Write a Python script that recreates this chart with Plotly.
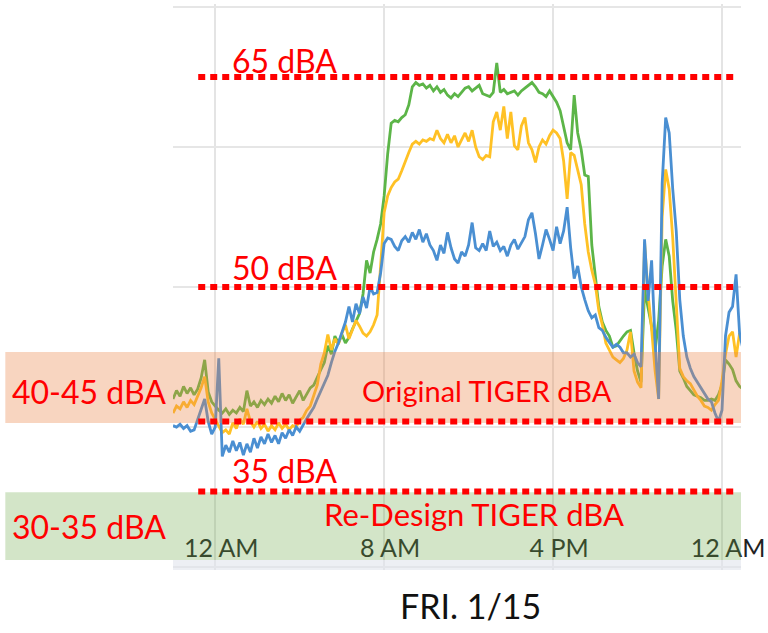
import pandas as pd
import plotly.graph_objects as go

# 10-minute readings starting Thu 1/14 10:00 PM
start_time = "2016-01-14 22:00"
step = "10min"

green_dba = [
    42.0, 42.6, 42.2, 42.9, 42.4, 42.8, 42.3, 42.7, 43.5, 44.8,
    42.5, 41.8, 41.5, 41.2, 41.0, 41.3, 40.9, 41.2, 41.0, 41.4,
    41.1, 42.6, 41.5, 41.8, 41.4, 41.9, 41.6, 42.0, 41.7, 42.2,
    41.8, 42.4, 41.9, 42.3, 41.7, 42.1, 42.6, 41.9, 42.3, 42.8,
    43.0, 43.6, 44.1, 44.6, 45.8, 45.2, 46.5, 46.0, 46.6, 46.0,
    46.4, 47.0, 47.6, 48.1, 49.5, 51.9, 51.0, 52.5, 53.4, 54.5,
    56.5, 59.5, 61.7, 61.9, 61.8, 62.1, 62.3, 63.0, 64.3, 64.6,
    64.4, 64.5, 64.2, 64.4, 64.0, 64.3, 63.9, 64.1, 63.7, 63.5,
    63.8, 63.6, 63.9, 64.2, 64.3, 64.0, 64.2, 64.4, 63.8, 63.7,
    63.6, 63.9, 66.0, 63.9, 64.1, 63.8, 63.9, 64.0, 63.7, 64.0,
    64.2, 64.4, 64.6, 64.3, 63.9, 63.8, 63.6, 64.0, 63.6, 63.2,
    62.6, 61.5, 60.3, 59.8, 63.7, 61.0, 59.8, 58.0, 57.9, 53.0,
    51.0, 48.6, 47.5, 46.9, 46.5, 45.7, 45.8, 46.2, 46.5, 46.8,
    46.9, 45.3, 44.0, 43.2, 49.8, 48.5, 47.2, 45.5, 47.6, 51.5,
    53.4, 52.2, 49.0, 46.9, 44.0, 43.5, 42.9, 42.6, 42.3, 42.2,
    42.1, 41.9, 41.9, 42.0, 41.9, 42.3, 43.0, 44.8, 44.5, 44.1,
    43.3, 42.9, 42.7,
]

yellow_dba = [
    41.0, 41.5, 41.3, 41.8, 41.4, 41.9, 41.6, 42.2, 42.8, 43.6,
    41.8, 41.0, 40.5, 40.0, 39.6, 39.8, 39.5, 40.3, 39.9, 40.6,
    40.2, 41.3, 40.4, 40.0, 40.4, 39.9, 40.2, 39.7, 40.1, 39.8,
    40.3, 39.9, 40.2, 39.8, 40.1, 40.0, 40.5, 40.7, 41.2, 41.5,
    42.3, 43.0, 44.5, 45.3, 46.6, 45.5, 46.3, 45.9, 46.7, 47.3,
    46.3, 47.0, 47.6, 47.2, 46.7, 46.5, 46.8, 47.3, 48.0, 51.5,
    55.3, 56.5, 57.1, 57.5, 57.7, 58.3, 59.0, 59.6, 60.2, 60.4,
    60.2, 60.5, 60.4, 60.6, 60.5, 61.2, 60.6, 60.3, 60.9, 60.3,
    60.8, 60.0, 60.5, 61.0, 60.4, 61.2, 60.0, 59.3, 59.1, 59.4,
    59.3, 61.8, 62.5, 61.2, 62.9, 60.6, 62.5, 60.1, 59.8, 61.5,
    62.1, 60.3, 59.8, 58.9, 60.0, 60.5, 60.2, 60.8, 61.2, 61.0,
    60.6, 59.0, 56.3, 59.6, 59.4, 58.4, 57.3, 54.5, 52.5, 51.2,
    50.2, 48.3, 47.3, 46.0, 45.5, 45.0, 44.8, 44.6, 44.9, 45.5,
    46.8, 44.0, 43.2, 42.8, 53.2, 49.5, 47.0, 44.0, 42.0, 55.0,
    58.4, 57.0, 53.5, 49.0, 44.2, 43.6, 43.3, 43.1, 42.6, 42.2,
    41.9, 41.5, 41.4, 41.2, 41.6, 41.9, 43.3, 45.2, 46.5, 46.8,
    45.0, 46.7, 46.0,
]

blue_dba = [
    40.1, 40.0, 40.2, 39.9, 40.1, 39.7, 39.8, 40.5, 41.3, 42.0,
    40.4, 39.5, 40.0, 44.9, 37.9, 38.7, 38.2, 39.0, 38.3, 38.9,
    38.0, 38.8, 38.2, 39.2, 38.5, 39.3, 38.8, 39.5, 38.9, 39.4,
    38.8, 39.6, 39.2, 39.8, 39.4, 40.0, 39.7, 40.2, 40.6, 41.0,
    41.4, 42.0, 42.6, 43.2, 43.7, 44.6, 45.4, 46.0, 46.8, 47.5,
    48.6, 47.5, 48.8, 48.1, 49.3, 48.5, 50.0, 49.5, 49.6, 51.0,
    53.1, 53.5, 53.4, 52.9, 52.6, 53.3, 53.6, 53.2, 53.9, 53.4,
    54.1, 53.2, 53.8, 53.0, 52.6, 51.9, 53.0, 52.4, 53.9, 52.8,
    52.0, 51.7, 52.5, 52.2, 53.0, 54.6, 52.8, 52.6, 53.1, 52.6,
    54.0, 52.9, 53.2, 52.6, 52.9, 52.2, 53.0, 53.4, 52.7, 53.1,
    53.6, 54.8, 55.3, 53.8, 52.0, 53.0, 54.1, 53.4, 52.6, 54.3,
    53.1, 54.0, 55.7, 52.8, 50.6, 51.5, 50.0, 49.1, 48.3, 47.8,
    48.0, 47.1, 46.9, 46.4, 46.0, 45.7, 45.9, 45.7, 45.3, 45.3,
    45.0, 45.2, 44.6, 44.3, 53.4, 49.0, 51.9, 46.0, 42.0, 57.4,
    62.1, 61.0, 57.0, 54.0, 49.1, 46.5, 45.0, 44.2, 43.6, 43.2,
    42.8, 42.4, 42.0, 41.8, 41.0, 40.4, 41.2, 46.5, 48.2, 48.6,
    50.9, 46.7, 45.5,
]

tick_times = ["2016-01-15 00:00", "2016-01-15 08:00", "2016-01-15 16:00", "2016-01-16 00:00"]
tick_labels = ["12 AM", "8 AM", "4 PM", "12 AM"]

ref_levels = [65, 50, 40.4, 35.4]
ref_labels = [("65 dBA", 0.901), ("50 dBA", 0.534), ("35 dBA", 0.175)]

times = pd.date_range(start_time, periods=len(green_dba), freq=step)

FONT = "Lato"
RED = "#ff0000"

fig = go.Figure()
for vals, color in [(green_dba, "#5cb548"), (yellow_dba, "#ffc125"), (blue_dba, "#4a8fd2")]:
    fig.add_trace(go.Scatter(x=times, y=vals, mode="lines",
                             line=dict(color=color, width=2.8), hoverinfo="skip",
                             showlegend=False))

shapes = []
# bands (drawn above the lines, translucent)
shapes.append(dict(type="rect", xref="paper", yref="y", x0=-0.2952, x1=1.0,
                   y0=40.28, y1=45.35, fillcolor="rgba(235,135,75,0.35)",
                   line=dict(width=0), layer="above"))
shapes.append(dict(type="rect", xref="paper", yref="y", x0=-0.2952, x1=1.0,
                   y0=30.5, y1=35.35, fillcolor="rgba(108,168,72,0.30)",
                   line=dict(width=0), layer="above"))
shapes.append(dict(type="rect", xref="paper", yref="y", x0=0, x1=1.0,
                   y0=29.79, y1=30.5, fillcolor="rgba(225,229,236,0.6)",
                   line=dict(width=0), layer="above"))
for lv in ref_levels:
    shapes.append(dict(type="line", xref="paper", yref="y", x0=0.0444, x1=0.9894,
                       y0=lv, y1=lv, line=dict(color=RED, width=6, dash="7px,5px"),
                       layer="above"))

annotations = []
for txt, yp in ref_labels:
    annotations.append(dict(text=txt, x=0.1, y=yp, xref="paper", yref="paper",
                            xanchor="left", yanchor="middle", showarrow=False,
                            font=dict(family=FONT, size=32, color=RED)))
annotations += [
    dict(text="Original TIGER dBA", x=0.553, y=0.318, xref="paper", yref="paper",
         xanchor="center", yanchor="middle", showarrow=False,
         font=dict(family=FONT, size=29, color=RED)),
    dict(text="Re-Design TIGER dBA", x=0.530, y=0.099, xref="paper", yref="paper",
         xanchor="center", yanchor="middle", showarrow=False,
         font=dict(family=FONT, size=31, color=RED)),
    dict(text="40-45 dBA", x=-0.287, y=0.3145, xref="paper", yref="paper",
         xanchor="left", yanchor="middle", showarrow=False,
         font=dict(family=FONT, size=32, color=RED)),
    dict(text="30-35 dBA", x=-0.287, y=0.076, xref="paper", yref="paper",
         xanchor="left", yanchor="middle", showarrow=False,
         font=dict(family=FONT, size=32, color=RED)),
    dict(text="FRI. 1/15", x=0.5235, y=-0.0636, xref="paper", yref="paper",
         xanchor="center", yanchor="middle", showarrow=False,
         font=dict(family=FONT, size=34, color="#111111")),
]

fig.update_layout(
    width=768, height=633,
    margin=dict(l=173, r=27, t=4, b=63),
    paper_bgcolor="white", plot_bgcolor="white",
    shapes=shapes, annotations=annotations,
    font=dict(family=FONT),
    xaxis=dict(range=["2016-01-14 22:00", "2016-01-16 00:54"],
               tickvals=tick_times, ticktext=tick_labels,
               ticklabelposition="inside", ticklabeloverflow="allow",
               ticklabelstandoff=5, ticklabelshift=6,
               tickfont=dict(family=FONT, size=25, color="#222222"),
               showgrid=True, gridcolor="#e4e4e4", gridwidth=1.5,
               showline=False, zeroline=False, ticks=""),
    yaxis=dict(range=[29.79, 70.21], tick0=30, dtick=10, showticklabels=False,
               showgrid=True, gridcolor="#e6e6e6", gridwidth=1.5,
               zeroline=False, showline=False, ticks=""),
)

fig.write_html("out.html", config={"displayModeBar": False},
               post_script="document.body.style.margin='0px';")
